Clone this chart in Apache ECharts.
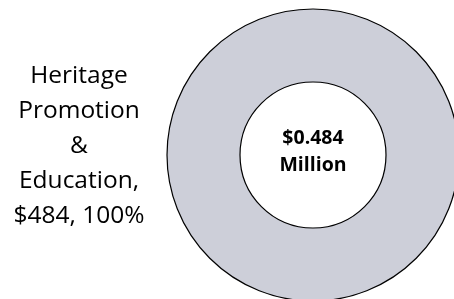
<!DOCTYPE html>
<html>
<head>
<meta charset="utf-8">
<script src="https://cdn.jsdelivr.net/npm/echarts@6/dist/echarts.min.js"></script>
<style>html,body{margin:0;padding:0;background:#fff;}#c{width:454px;height:299px;}</style>
</head>
<body>
<div id="c"></div>
<script>
const categories = ["Heritage Promotion & Education"];
const values = [484];
const centerLabel = ["$0.484", "Million"];

const total = values.reduce((a, b) => a + b, 0);
const chart = echarts.init(document.getElementById('c'), null, {renderer: 'canvas'});
const labelLines = ["Heritage", "Promotion", "&", "Education,", "$" + values[0] + ", " + Math.round(values[0] / total * 100) + "%"];

chart.setOption({
  animation: false,
  backgroundColor: '#ffffff',
  series: [{
    type: 'pie',
    center: [313, 155],
    radius: [73, 146],
    silent: true,
    startAngle: 90,
    itemStyle: {color: '#CDCFD9', borderColor: '#000000', borderWidth: 1.2},
    label: {
      show: true,
      position: 'center',
      formatter: centerLabel.join('\n'),
      fontFamily: 'Open Sans',
      fontWeight: 'bold',
      fontSize: 19.5,
      lineHeight: 27,
      color: '#000',
      offset: [0, -3]
    },
    labelLine: {show: false},
    data: categories.map((c, i) => ({name: c, value: values[i]}))
  }],
  graphic: [{
    type: 'text',
    x: 79,
    y: 59,
    style: {
      text: labelLines.join('\n'),
      fontFamily: 'Open Sans',
      fontSize: 24.5,
      lineHeight: 34.8,
      fill: '#000',
      align: 'center',
      verticalAlign: 'top'
    }
  }]
});
</script>
</body>
</html>
